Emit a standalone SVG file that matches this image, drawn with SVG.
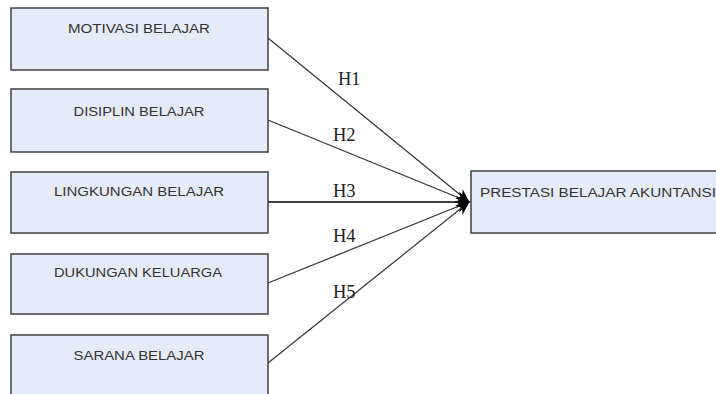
<svg xmlns="http://www.w3.org/2000/svg" width="716" height="394" viewBox="0 0 716 394">
<style>
.box{fill:#e6ecf7;stroke:#404040;stroke-width:1.5}
.lbl{font-family:"Liberation Sans",Arial,sans-serif;font-size:12px;fill:#333;text-anchor:middle}
.h{font-family:"Liberation Serif","Times New Roman",serif;font-size:18.5px;fill:#222}
.ln{stroke:#333;stroke-width:1.2;fill:none;marker-end:url(#ah)}
</style>
<defs>
<marker id="ah" markerWidth="14" markerHeight="12" refX="13" refY="6" orient="auto" markerUnits="userSpaceOnUse">
<path d="M0,0 L14,6 L0,12 L4,6 Z" fill="#000"/>
</marker>
</defs>
<rect width="716" height="394" fill="#fff"/>
<g id="connectors">
<line class="ln" x1="268" y1="38" x2="469" y2="202"/>
<line class="ln" x1="268" y1="120" x2="469" y2="202"/>
<line class="ln" x1="268" y1="202" x2="469" y2="202" style="stroke:#000;stroke-width:1.6"/>
<line class="ln" x1="268" y1="283" x2="469" y2="202"/>
<line class="ln" x1="268" y1="363" x2="469" y2="202"/>
<text class="h" x="338" y="85">H1</text>
<text class="h" x="333" y="141">H2</text>
<text class="h" x="333" y="197">H3</text>
<text class="h" x="333" y="242">H4</text>
<text class="h" x="333" y="298">H5</text>
</g>
<g id="n1"><rect class="box" x="11" y="8" width="257" height="62"/><text class="lbl" x="139" y="33" textLength="142" lengthAdjust="spacingAndGlyphs">MOTIVASI BELAJAR</text></g>
<g id="n2"><rect class="box" x="11" y="89" width="257" height="63"/><text class="lbl" x="139" y="116" textLength="131" lengthAdjust="spacingAndGlyphs">DISIPLIN BELAJAR</text></g>
<g id="n3"><rect class="box" x="11" y="172" width="257" height="61"/><text class="lbl" x="139" y="196" textLength="170" lengthAdjust="spacingAndGlyphs">LINGKUNGAN BELAJAR</text></g>
<g id="n4"><rect class="box" x="11" y="254" width="257" height="60"/><text class="lbl" x="138" y="277" textLength="168" lengthAdjust="spacingAndGlyphs">DUKUNGAN KELUARGA</text></g>
<g id="n5"><rect class="box" x="11" y="335" width="257" height="62"/><text class="lbl" x="139" y="360" textLength="131" lengthAdjust="spacingAndGlyphs">SARANA BELAJAR</text></g>
<g id="n6"><rect class="box" x="471" y="171" width="252" height="62"/><text class="lbl" x="480" y="197" style="text-anchor:start" textLength="236" lengthAdjust="spacingAndGlyphs">PRESTASI BELAJAR AKUNTANSI</text></g>
</svg>
